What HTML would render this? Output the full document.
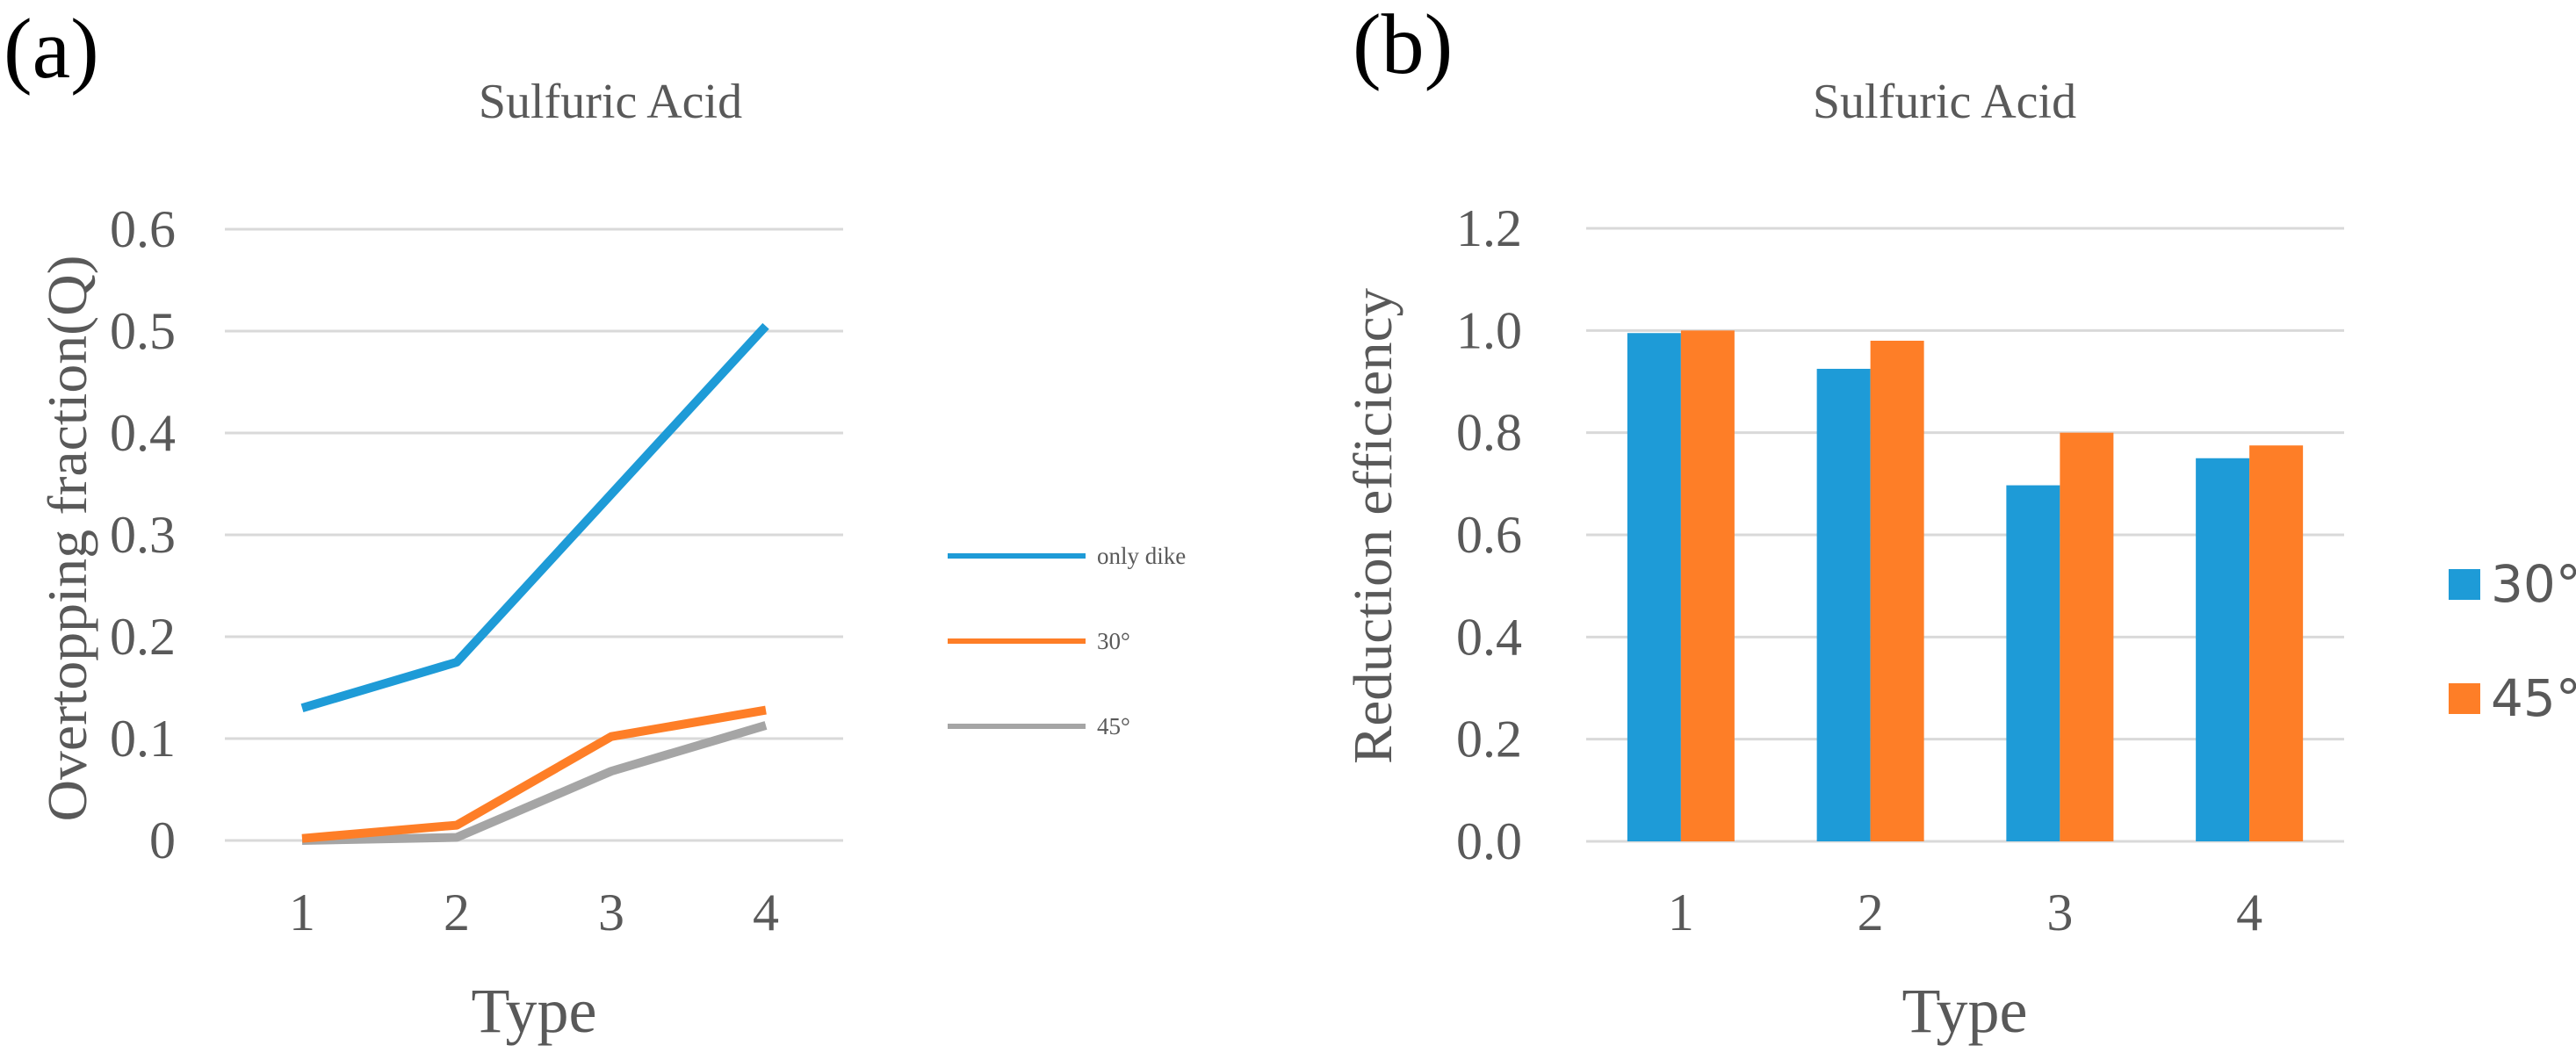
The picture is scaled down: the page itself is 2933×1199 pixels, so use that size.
<!DOCTYPE html>
<html><head><meta charset="utf-8"><style>
html,body{margin:0;padding:0;background:#fff;}
svg{display:block;}
text{font-family:"Liberation Serif",serif;fill:#595959;}
</style></head><body>
<svg id="fig" width="2933" height="1199" viewBox="0 0 2933 1199" xmlns="http://www.w3.org/2000/svg">
<text x="4" y="88" font-size="98" style="fill:#000">(a)</text>
<text x="1540" y="83" font-size="98" style="fill:#000">(b)</text>
<text x="695" y="134" font-size="56" text-anchor="middle">Sulfuric Acid</text>
<text x="2214" y="134" font-size="56" text-anchor="middle">Sulfuric Acid</text>
<text transform="translate(98,613) rotate(-90)" font-size="64" text-anchor="middle" textLength="645" lengthAdjust="spacingAndGlyphs">Overtopping fraction(Q)</text>
<text transform="translate(1584,599) rotate(-90)" font-size="62" text-anchor="middle" textLength="542" lengthAdjust="spacingAndGlyphs">Reduction efficiency</text>
<text x="608" y="1175" font-size="72" text-anchor="middle">Type</text>
<text x="2237" y="1175" font-size="72" text-anchor="middle">Type</text>
<g id="ca"></g><g id="cb"></g>
</svg>
<script>
const categories = ["1","2","3","4"];
const lineSeriesNames = ["only dike","30°","45°"];
const onlyDike = [0.13,0.175,0.34,0.505];
const deg30Line = [0.002,0.015,0.102,0.128];
const deg45Line = [0.0,0.003,0.068,0.113];
const yTicksA = ["0","0.1","0.2","0.3","0.4","0.5","0.6"];
const yTickValsA = [0,0.1,0.2,0.3,0.4,0.5,0.6];
const barSeriesNames = ["30°","45°"];
const deg30Bar = [0.995,0.925,0.697,0.75];
const deg45Bar = [1.0,0.98,0.80,0.775];
const yTicksB = ["0.0","0.2","0.4","0.6","0.8","1.0","1.2"];
const yTickValsB = [0,0.2,0.4,0.6,0.8,1.0,1.2];

const NS="http://www.w3.org/2000/svg";
function mk(tag,attrs,parent){const e=document.createElementNS(NS,tag);for(const k in attrs)e.setAttribute(k,attrs[k]);parent.appendChild(e);return e;}
const colors=["#1E9BD7","#FE7E27","#A5A5A5"];

// Chart A
const ga=document.getElementById('ca');
const aL=256,aR=960,aT=261,aB=957,aMax=0.6;
const xA=i=>aL+(aR-aL)/categories.length*(i+0.5);
const yA=v=>aB-(v/aMax)*(aB-aT);
yTickValsA.forEach((v,i)=>{
  const l=mk('line',{x1:aL,x2:aR,y1:yA(v),y2:yA(v),stroke:'#d9d9d9','stroke-width':3},ga);
  
  
  const t=mk('text',{x:200,y:yA(v)+20,'font-size':60,'text-anchor':'end'},ga);
  t.textContent=yTicksA[i];
  
  
});
categories.forEach((c,i)=>{
  const t=mk('text',{x:xA(i),y:1059,'font-size':60,'text-anchor':'middle'},ga);
  t.textContent=c;
  
  
});
[deg45Line,deg30Line,onlyDike].forEach((s,k)=>{
  const ci=2-k;
  const p=mk('polyline',{points:s.map((v,i)=>xA(i)+','+yA(v)).join(' '),fill:'none',stroke:colors[ci],'stroke-width':10,'stroke-linejoin':'round'},ga);
  
  
});
lineSeriesNames.forEach((n,i)=>{
  const y=633+i*97;
  const l=mk('line',{x1:1079,x2:1236,y1:y,y2:y,stroke:colors[i],'stroke-width':6},ga);
  
  
  const t=mk('text',{x:1249,y:y+9,'font-size':27},ga);
  t.textContent=n;
  
  
});

// Chart B
const gb=document.getElementById('cb');
const bL=1806,bR=2669,bT=260,bB=958,bMax=1.2;
const bw=(bR-bL)/categories.length, barW=61;
const xB=i=>bL+bw*(i+0.5);
const yB=v=>bB-(v/bMax)*(bB-bT);
yTickValsB.forEach((v,i)=>{
  const l=mk('line',{x1:bL,x2:bR,y1:yB(v),y2:yB(v),stroke:'#d9d9d9','stroke-width':3},gb);
  
  
  const t=mk('text',{x:1733,y:yB(v)+20,'font-size':60,'text-anchor':'end'},gb);
  t.textContent=yTicksB[i];
  
  
});
categories.forEach((c,i)=>{
  const t=mk('text',{x:xB(i),y:1059,'font-size':60,'text-anchor':'middle'},gb);
  t.textContent=c;
  
  
  [deg30Bar,deg45Bar].forEach((s,k)=>{
    const x=xB(i)-barW+k*barW;
    const r=mk('rect',{x:x,y:yB(s[i]),width:barW,height:bB-yB(s[i]),fill:colors[k]},gb);
    
    
  });
});
barSeriesNames.forEach((n,i)=>{
  const y=648+i*130;
  const r=mk('rect',{x:2788,y:y,width:36,height:35,fill:colors[i]},gb);
  
  
  const t=mk('text',{x:2836,y:y+37,'font-size':58,style:'font-family:"DejaVu Sans","Liberation Sans",sans-serif'},gb);
  t.textContent=n;
  
  
});
</script>
</body></html>
